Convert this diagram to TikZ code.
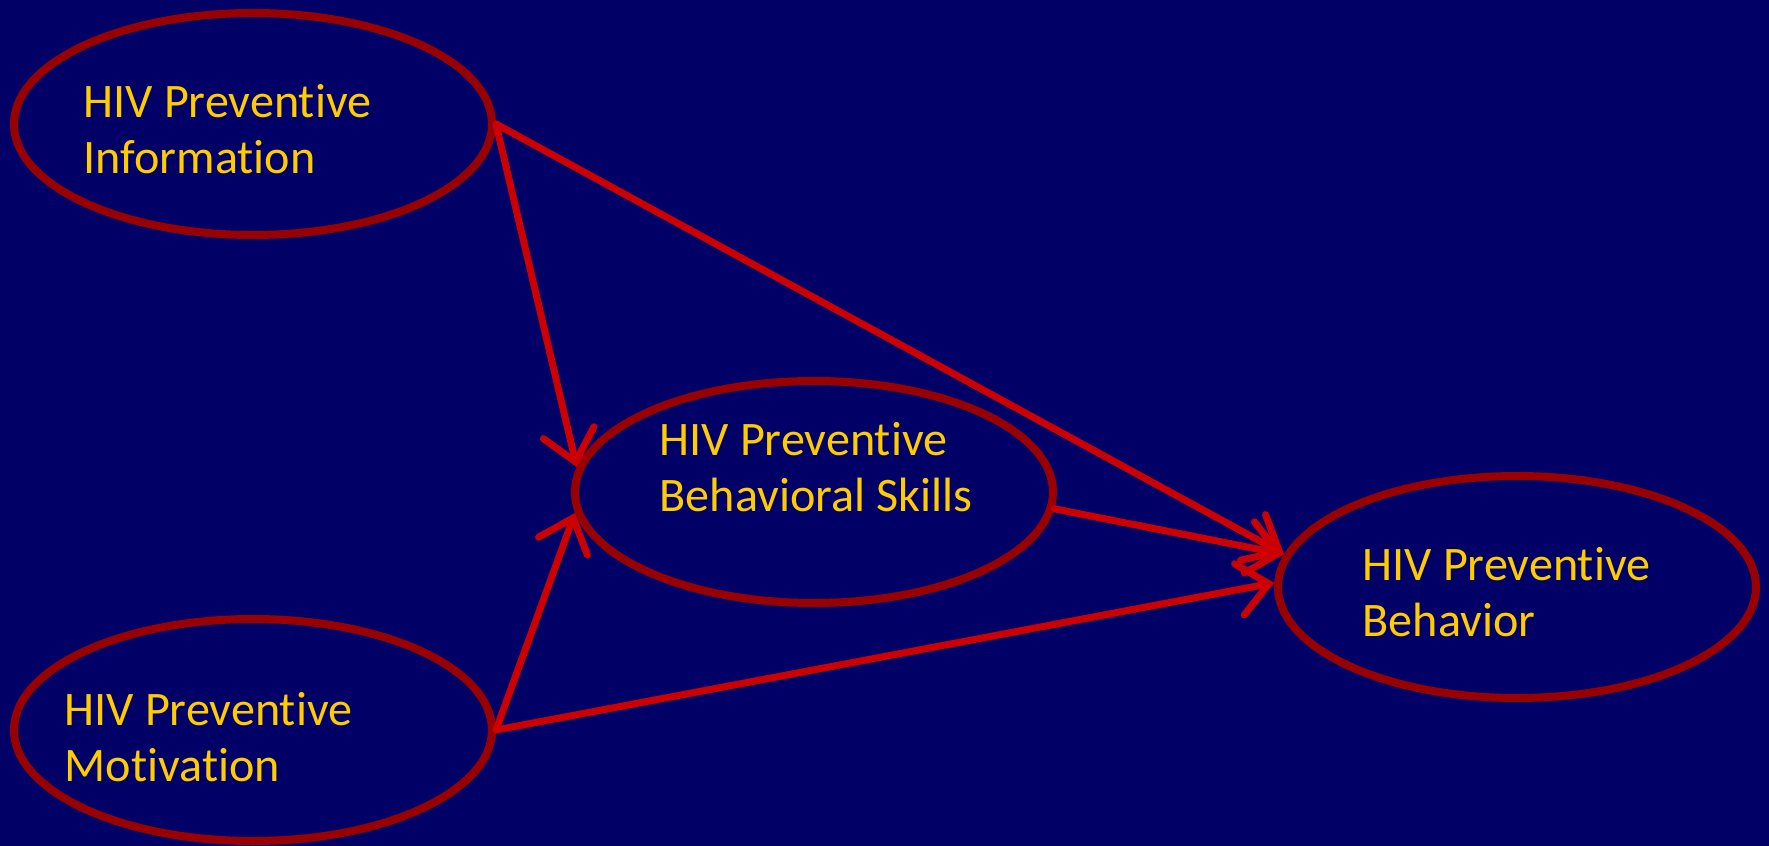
\documentclass[tikz,border=0pt]{standalone}
\usepackage{fontspec}
\setmainfont[Ligatures=NoCommon]{Carlito}
\usepackage{tikz}
\usetikzlibrary{shapes.geometric, arrows.meta}
\definecolor{navy}{HTML}{000066}
\definecolor{ring}{HTML}{990000}
\definecolor{arrowred}{HTML}{CC0000}
\definecolor{gold}{HTML}{FFCC00}
\tikzstyle{stage} = [ellipse, 
minimum width=4.78cm, 
minimum height=2.22cm,
line width=0.08cm, 
draw=ring]
\tikzstyle{caption} = [anchor=west, 
inner sep=0pt, 
align=left, 
text=gold, 
font=\fontsize{13.7}{15.8}\selectfont]
\tikzstyle{arrow} = [line width=0.07cm, draw=arrowred, line cap=round,
-{Straight Barb[length=0.3cm, width=0.52cm, line cap=round]}]

\begin{document}
\begin{tikzpicture}[node distance=6.06cm]
\fill[navy] (-2.53,1.24) rectangle (15.16,-7.22);

\node (info) [stage] {};
\node (motiv) [stage, below of=info] {};
\node (skills) [stage, right of=info, xshift=-0.45cm, yshift=-3.68cm] {};
\node (behav) [stage, right of=skills, xshift=0.97cm, yshift=-0.95cm] {};

\node (infotext) [caption] at ([xshift=-1.70cm, yshift=-0.05cm]info.center) {HIV Preventive\\Information};
\node (skillstext) [caption] at ([xshift=-1.55cm, yshift=0.25cm]skills.center) {HIV Preventive\\Behavioral Skills};
\node (behavtext) [caption] at ([xshift=-1.55cm, yshift=-0.05cm]behav.center) {HIV Preventive\\Behavior};
\node (motivtext) [caption] at ([xshift=-1.89cm, yshift=-0.07cm]motiv.center) {HIV Preventive\\Motivation};

\draw [arrow] (info.east) -- (skills.174);
\draw [arrow] (info.east) -- (behav.172);
\draw [arrow] (skills.-4) -- (behav.172);
\draw [arrow] (motiv.east) -- (skills.185);
\draw [arrow] (motiv.east) -- (behav.179);

\end{tikzpicture}
\end{document}
